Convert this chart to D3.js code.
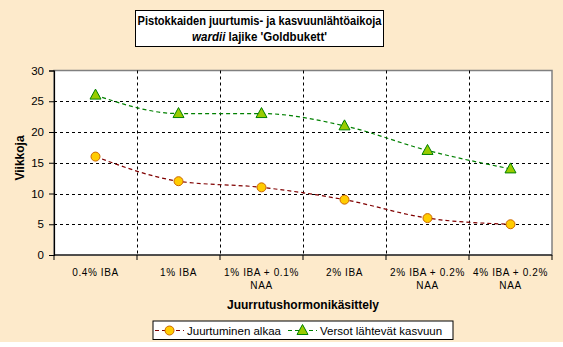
<!DOCTYPE html>
<html><head><meta charset="utf-8">
<script src="https://cdn.jsdelivr.net/npm/d3@7"></script>
<style>
html,body{margin:0;padding:0;background:#fff;}
svg{display:block;}
text{font-family:"Liberation Sans",Arial,sans-serif;}
</style></head><body>
<svg id="c" width="563" height="347"></svg>
<script>
const categories = [["0.4% IBA"],["1% IBA"],["1% IBA +  0.1%","NAA"],["2% IBA"],["2% IBA +  0.2%","NAA"],["4% IBA +  0.2%","NAA"]];
const seriesNames = ["Juurtuminen alkaa","Versot lähtevät kasvuun"];
const juurtuminen = [16,12,11,9,6,5];
const versot = [26,23,23,21,17,14];
const yTicks = [0,5,10,15,20,25,30];

const svg = d3.select("#c");
svg.append("rect").attr("x",0).attr("y",0).attr("width",563).attr("height",342).attr("fill","#FDEACB");

const L=54, R=552, T=70.5, B=255;
const x = d3.scaleBand().domain(d3.range(categories.length)).range([L,R]).padding(0);
const y = d3.scaleLinear().domain([0,30]).range([B,T]);

svg.append("rect").attr("x",L).attr("y",T).attr("width",R-L).attr("height",B-T).attr("fill","#fff").attr("stroke","#808080").attr("stroke-width",1.5);

// gridlines
const g = svg.append("g");
yTicks.filter(v=>v>0&&v<30).forEach(v=>{
  g.append("line").attr("x1",L).attr("x2",R).attr("y1",Math.round(y(v))+0.5).attr("y2",Math.round(y(v))+0.5)
   .attr("stroke","#000").attr("stroke-dasharray","3,3");
});
d3.range(1,categories.length).forEach(i=>{
  const xx=Math.round(x(i))+0.5;
  g.append("line").attr("x1",xx).attr("x2",xx).attr("y1",T).attr("y2",B).attr("stroke","#000").attr("stroke-dasharray","3,3");
});

// axes
const ya = svg.append("g").attr("transform",`translate(${L},0)`).call(d3.axisLeft(y).tickValues(yTicks).tickSize(5).tickPadding(5));
ya.select(".domain").attr("stroke","#000").attr("stroke-width",1.2);
ya.selectAll("text").attr("font-size","11.5px").attr("fill","#000").style("font-family","'Liberation Sans',Arial,sans-serif");

const xa = svg.append("g").attr("transform",`translate(0,${B})`);
xa.append("line").attr("x1",L).attr("x2",R).attr("y1",0).attr("y2",0).attr("stroke","#000").attr("stroke-width",1.2);
d3.range(categories.length+1).forEach(i=>{
  const xx = i<categories.length? x(i): R;
  xa.append("line").attr("x1",xx).attr("x2",xx).attr("y1",0).attr("y2",5).attr("stroke","#000");
});
categories.forEach((c,i)=>{
  const t = xa.append("text").attr("x",x(i)+x.bandwidth()/2).attr("y",21).attr("text-anchor","middle")
    .attr("font-size","10px").attr("letter-spacing","0.6px").attr("fill","#000");
  c.forEach((line,j)=>t.append("tspan").attr("x",x(i)+x.bandwidth()/2).attr("dy",j===0?0:12.5).text(line));
});

// lines
const cx = i=>x(i)+x.bandwidth()/2;
const line = d3.line().x((d,i)=>cx(i)).y(d=>y(d)).curve(d3.curveMonotoneX);
svg.append("path").attr("d",line(juurtuminen)).attr("fill","none").attr("stroke","#800000").attr("stroke-width",1.2).attr("stroke-dasharray","4,3");
svg.append("path").attr("d",line(versot)).attr("fill","none").attr("stroke","#008000").attr("stroke-width",1.2).attr("stroke-dasharray","4,3");

const circ = (sel,px,py)=>sel.append("circle").attr("cx",px).attr("cy",py).attr("r",4.5).attr("fill","#FFCC00").attr("stroke","#CC6600").attr("stroke-width",1);
const tri = (sel,px,py)=>sel.append("path").attr("d",`M${px},${py-6}L${px+5.5},${py+4}L${px-5.5},${py+4}Z`).attr("fill","#99CC00").attr("stroke","#008000").attr("stroke-width",1);
juurtuminen.forEach((v,i)=>circ(svg,cx(i),y(v)));
versot.forEach((v,i)=>tri(svg,cx(i),y(v)));

// title
svg.append("rect").attr("x",135.5).attr("y",10.5).attr("width",248).attr("height",36).attr("fill","#fff").attr("stroke","#000");
svg.append("text").attr("x",259.5).attr("y",24.5).attr("text-anchor","middle").attr("font-size","12.5px").attr("font-weight","bold")
  .attr("textLength",244).attr("lengthAdjust","spacingAndGlyphs").text("Pistokkaiden juurtumis- ja kasvuunlähtöaikoja");
const t2 = svg.append("text").attr("x",259.5).attr("y",41).attr("text-anchor","middle").attr("font-size","12.5px").attr("font-weight","bold")
  .attr("textLength",135).attr("lengthAdjust","spacingAndGlyphs");
t2.append("tspan").attr("font-style","italic").text("wardii");
t2.append("tspan").text(" lajike 'Goldbukett'");

// axis titles
svg.append("text").attr("transform","translate(24,158) rotate(-90)").attr("text-anchor","middle").attr("font-size","12px").attr("font-weight","bold").text("Viikkoja");
svg.append("text").attr("x",303).attr("y",309).attr("text-anchor","middle").attr("font-size","12px").attr("font-weight","bold").text("Juurrutushormonikäsittely");

// legend
const lg = svg.append("g");
lg.append("rect").attr("x",153).attr("y",321).attr("width",300).attr("height",18.5).attr("fill","#fff").attr("stroke","#000");
const items=[{x0:155,tx:187,color:"#800000",mk:circ,name:seriesNames[0]},{x0:288,tx:320,color:"#008000",mk:tri,name:seriesNames[1]}];
items.forEach(it=>{
  lg.append("line").attr("x1",it.x0).attr("x2",it.x0+29).attr("y1",330.5).attr("y2",330.5).attr("stroke",it.color).attr("stroke-width",1.2).attr("stroke-dasharray","4,3");
  it.mk(lg,it.x0+14.5,330.5);
  lg.append("text").attr("x",it.tx).attr("y",335).attr("font-size","11.5px").attr("fill","#000").text(it.name);
});
</script>
</body></html>
